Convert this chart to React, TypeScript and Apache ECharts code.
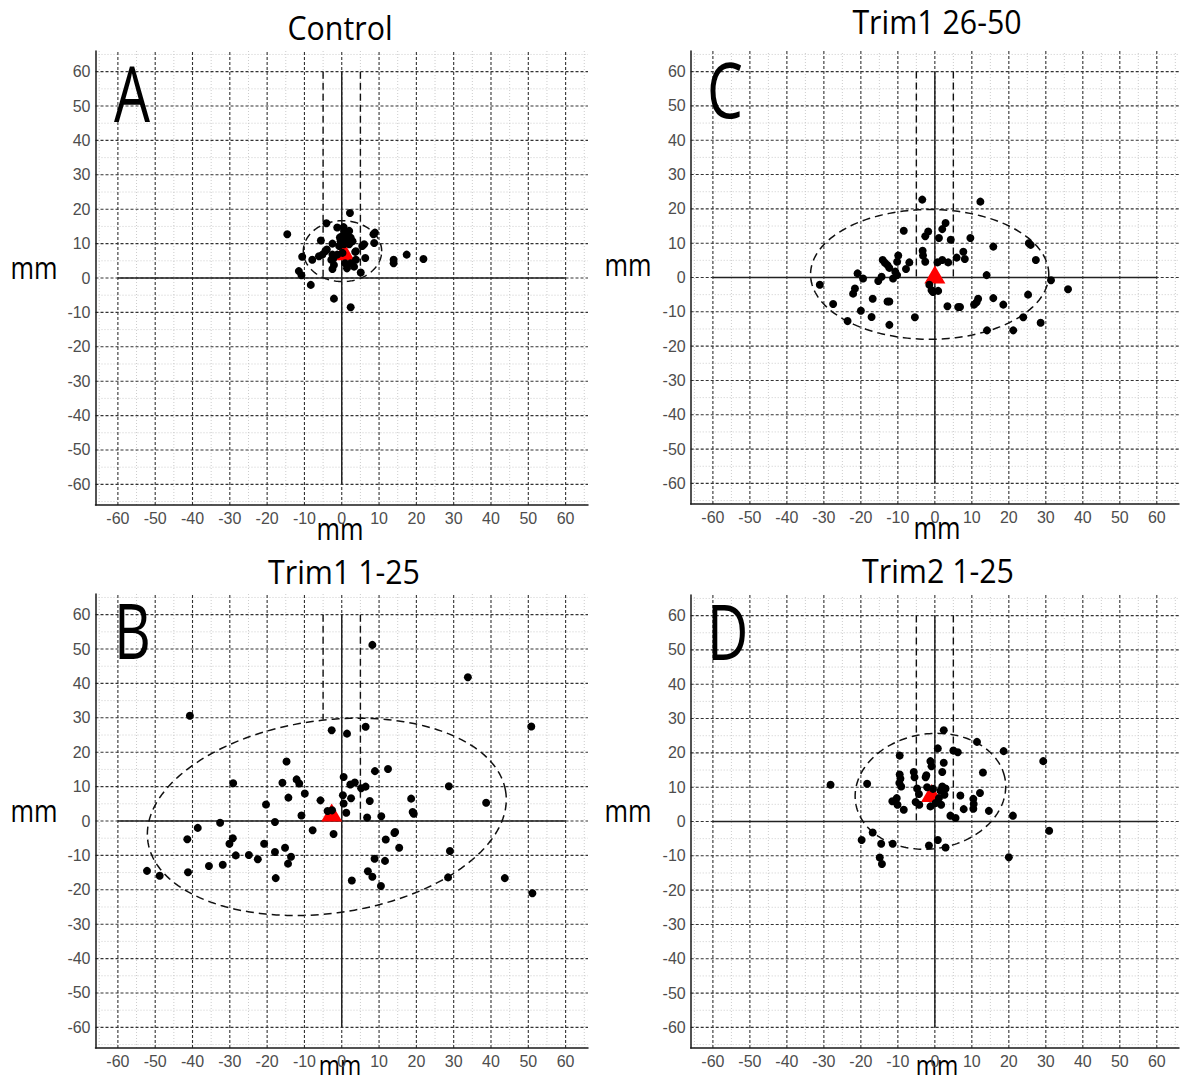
import React, { useEffect, useRef } from "react";
import * as echarts from "echarts";

// ---------- axis / reference values ----------
const AXIS_MIN = -66;
const AXIS_MAX = 66;
const MAJOR_TICKS = [-60, -50, -40, -30, -20, -10, 0, 10, 20, 30, 40, 50, 60];
const MINOR_TICKS = [-65, -55, -45, -35, -25, -15, -5, 5, 15, 25, 35, 45, 55, 65];
const CROSS_EXTENT = 60;
const GUIDE_X = [-5, 5];
const GUIDE_TOP = 60;

// ---------- panel titles / letters ----------
const PANEL_TITLES = ["Control", "Trim1 26-50", "Trim1 1-25", "Trim2 1-25"];
const PANEL_LETTERS = ["A", "C", "B", "D"];
const AXIS_NAME = "mm";

// ---------- data: A  Control ----------
const controlPoints: [number, number][] = [
  [-14.6, 12.7], [2.2, 18.9], [-4.1, 15.9], [-1.2, 14.7], [0.6, 13.7], [2.0, 13.7], [1.3, 12.7],
  [0.2, 12.2], [2.4, 11.7], [1.1, 11.2], [-0.3, 10.7], [0.6, 9.8], [2.0, 9.8], [-0.7, 9.3],
  [2.9, 10.7], [-5.6, 10.9], [-2.5, 10.0], [-4.0, 8.3], [-5.2, 6.8], [-6.1, 6.3], [-2.5, 6.8],
  [-2.8, 5.3], [-1.2, 6.8], [0.2, 7.3], [3.8, 7.8], [5.5, 9.3], [6.0, 9.8], [8.5, 12.7],
  [8.9, 13.2], [8.7, 10.2], [6.3, 5.8], [3.8, 5.3], [2.4, 4.3], [-2.1, 3.8], [-2.5, 2.6],
  [5.1, 1.6], [3.3, 3.3], [-10.6, 6.2], [-7.9, 5.3], [-11.5, 2.0], [-10.8, 0.8], [-8.3, -2.0],
  [-2.1, -6.0], [2.4, -8.5], [13.9, 5.3], [13.9, 4.3], [17.4, 6.8], [21.9, 5.5], [0.9, 4.3],
  [1.4, 2.8], [-4.4, 7.8], [-2.3, 5.6], [3.6, 7.6], [0.5, 14.8], [1.6, 12.2], [-0.5, 11.8],
];
const controlMean: [number, number] = [0.6, 7.8];
const controlEllipse = [0.2, 7.8, 10.5, 8.85, 0]; // cx, cy, semi-major, semi-minor, angle(deg)
const controlGuideBottom = [0, 0];

// ---------- data: C  Trim1 26-50 ----------
const trim1LatePoints: [number, number][] = [
  [-3.4, 22.7], [-8.4, 13.6], [-1.8, 13.4], [-2.6, 12.0], [-3.3, 7.8], [-3.2, 6.4], [-2.6, 4.6],
  [-9.9, 6.4], [-10.2, 4.6], [-6.9, 4.4], [-7.8, 2.5], [-14.1, 5.1], [-13.5, 4.3], [-12.8, 3.6],
  [-12.3, 2.8], [-10.7, 1.7], [-10.2, 0.7], [-11.3, -0.3], [-14.4, 0.2], [-15.3, -1.0],
  [-20.9, 1.2], [-19.4, -0.3], [-31.1, -2.1], [-21.6, -3.2], [-22.1, -4.7], [-27.5, -7.7],
  [-16.8, -6.2], [-12.8, -7.0], [-12.3, -7.0], [-20.0, -9.7], [-17.1, -11.5], [-23.6, -12.7],
  [-12.3, -13.8], [-5.4, -11.6], [-1.5, -2.1], [-0.9, -3.7], [-0.5, -4.2],
  [12.3, 22.1], [2.9, 15.9], [2.0, 14.1], [1.1, 11.5], [4.3, 11.0], [9.6, 11.5], [15.8, 9.0],
  [25.4, 10.0], [25.9, 9.5], [27.3, 5.1], [7.7, 7.5], [8.1, 5.4], [5.9, 5.8], [3.6, 4.4],
  [2.0, 5.1], [0.7, 4.4], [14.0, 0.7], [31.4, -0.8], [36.0, -3.4], [0.9, -3.9], [11.7, -6.2],
  [11.3, -7.2], [10.6, -7.9], [15.8, -6.0], [18.5, -7.9], [3.4, -8.4], [6.3, -8.6], [6.8, -8.6],
  [25.2, -5.0], [23.9, -11.6], [28.6, -13.2], [14.1, -15.4], [21.2, -15.4],
];
const trim1LateMean: [number, number] = [0, 0.9];
const trim1LateEllipse = [-1.4, 0.9, 32.2, 18.9, 0];
const trim1LateGuideBottom = [0, 0];

// ---------- data: B  Trim1 1-25 ----------
const trim1EarlyPoints: [number, number][] = [
  [-40.7, 30.6], [-2.7, 26.4], [1.4, 25.4], [-14.8, 17.3], [-29.1, 11.0], [-15.9, 11.1],
  [-12.1, 12.1], [-11.4, 10.9], [-9.9, 8.0], [-14.3, 6.8], [-20.3, 4.8], [-5.7, 6.0],
  [0.5, 12.8], [2.3, 10.6], [0.3, 7.5], [0.5, 5.1], [1.2, 2.4], [2.5, 6.6], [-10.8, 1.6],
  [-3.8, 2.9], [-2.6, 3.1], [-17.9, -0.3], [-32.6, -0.5], [-7.8, -2.7], [-2.2, -3.8],
  [-38.6, -2.0], [-41.4, -5.3], [-29.2, -5.0], [-30.1, -6.6], [-28.4, -10.0], [-24.9, -9.9],
  [-22.5, -11.1], [-20.8, -6.6], [-17.9, -9.0], [-15.2, -7.8], [-13.6, -10.4], [-14.4, -12.4],
  [-35.6, -13.1], [-31.9, -12.7], [-41.2, -14.9], [-17.7, -16.6], [-52.2, -14.5], [-48.8, -15.9],
  [2.7, -17.3], [8.2, 51.2], [33.8, 41.8], [50.8, 27.5], [6.4, 27.4], [8.9, 14.5], [12.4, 15.1],
  [28.7, 10.1], [38.7, 5.3], [18.6, 6.5], [19.0, 2.6], [19.3, 2.1], [3.5, 11.2], [5.2, 9.5],
  [6.4, 10.0], [7.5, 5.8], [6.8, 1.0], [10.6, 1.4], [14.1, -3.5], [14.3, -3.2], [11.8, -5.4],
  [15.4, -7.8], [29.0, -8.7], [8.8, -11.0], [11.6, -11.6], [7.0, -14.6], [8.2, -16.2],
  [10.5, -18.9], [28.5, -16.4], [43.7, -16.6], [51.1, -21.0],
];
const trim1EarlyMean: [number, number] = [-2.7, 2.5];
const trim1EarlyEllipse = [-4.0, 1.2, 48.5, 28.0, 9];
const trim1EarlyGuideBottom = [29.5, 0];

// ---------- data: D  Trim2 1-25 ----------
const trim2EarlyPoints: [number, number][] = [
  [2.4, 26.6], [11.4, 23.2], [18.6, 20.5], [29.3, 17.6], [0.8, 21.3], [5.0, 20.7], [6.2, 20.2],
  [-9.5, 19.2], [-1.2, 17.6], [-0.9, 16.1], [2.4, 17.1], [2.0, 14.4], [13.0, 14.3], [-5.7, 14.4],
  [-5.5, 12.9], [-9.5, 13.7], [-9.3, 12.5], [-9.6, 11.2], [-9.1, 10.2], [-2.3, 13.5], [-2.5, 12.9],
  [-18.3, 11.0], [-28.2, 10.7], [-4.8, 9.6], [-4.3, 8.0], [-2.1, 10.0], [2.0, 10.2], [2.9, 9.6],
  [2.6, 7.8], [1.1, 6.8], [0.2, 5.4], [-1.2, 4.4], [1.7, 4.9], [6.9, 7.6], [12.2, 8.3],
  [10.4, 6.6], [10.5, 5.1], [10.4, 3.7], [7.8, 3.6], [14.6, 3.1], [-11.5, 5.9], [-10.3, 6.8],
  [-10.1, 4.9], [-8.4, 3.4], [-5.2, 5.7], [-4.2, 4.9], [4.2, 1.7], [5.6, 1.0], [21.1, 1.7],
  [30.9, -2.7], [-16.8, -3.2], [-19.8, -5.4], [-14.5, -6.5], [-11.4, -6.5], [-14.9, -10.5],
  [-14.3, -12.4], [-1.6, -7.0], [0.8, -5.4], [2.9, -7.6], [20.0, -10.4], [-0.5, 9.5], [1.5, 9.0],
];
const trim2EarlyMean: [number, number] = [-0.9, 8.3];
const trim2EarlyEllipse = [-1.2, 8.8, 20.5, 16.7, 12];
const trim2EarlyGuideBottom = [0, 0];

// order: A (top-left), C (top-right), B (bottom-left), D (bottom-right)
const PANEL_POINTS = [controlPoints, trim1LatePoints, trim1EarlyPoints, trim2EarlyPoints];
const PANEL_MEANS = [controlMean, trim1LateMean, trim1EarlyMean, trim2EarlyMean];
const PANEL_ELLIPSES = [controlEllipse, trim1LateEllipse, trim1EarlyEllipse, trim2EarlyEllipse];
const PANEL_GUIDE_BOTTOMS = [controlGuideBottom, trim1LateGuideBottom, trim1EarlyGuideBottom, trim2EarlyGuideBottom];

// ---------- layout (pixels) ----------
const LAYOUT = [
  { left: 95.5, top: 51, width: 492.5, height: 454, titleX: 340, titleY: 27, letterX: 114, letterY: 93, ymmX: 34, ymmY: 266.5, xmmX: 340, xmmY: 528, xmmSize: 31 },
  { left: 690.7, top: 51, width: 492.5, height: 453, titleX: 937, titleY: 21, letterX: 707, letterY: 89, ymmX: 628, ymmY: 264, xmmX: 937, xmmY: 527, xmmSize: 31 },
  { left: 95.5, top: 594, width: 492.5, height: 454, titleX: 344, titleY: 571, letterX: 114, letterY: 630, ymmX: 34, ymmY: 810, xmmX: 340, xmmY: 1065, xmmSize: 28 },
  { left: 690.7, top: 595, width: 492.5, height: 453, titleX: 938, titleY: 570, letterX: 707, letterY: 631, ymmX: 628, ymmY: 810, xmmX: 937, xmmY: 1065, xmmSize: 28 },
];

const BIG_FONT = "Open Sans";

function makeAxis(gridIndex: number) {
  return {
    type: "value",
    gridIndex,
    min: AXIS_MIN,
    max: AXIS_MAX,
    splitNumber: 12,
    minInterval: 10,
    maxInterval: 10,
    z: 10,
    axisLine: { show: true, onZero: false, lineStyle: { color: "#1a1a1a", width: 1.5 } },
    axisTick: { show: false },
    splitLine: { show: false },
    axisLabel: {
      color: "#4d4d4d",
      fontSize: 16,
      fontFamily: "Liberation Sans",
      margin: 5,
      formatter: (v: number) => (Math.round(v) % 10 === 0 && Math.abs(v) <= 60 ? String(Math.round(v)) : ""),
    },
  };
}

function gridLineSeries(idx: number, ticks: number[], style: any, z: number) {
  const data: number[][] = [];
  ticks.forEach((t) => {
    data.push([t, 0]);
    data.push([t, 1]);
  });
  return {
    type: "custom",
    coordinateSystem: "cartesian2d",
    xAxisIndex: idx,
    yAxisIndex: idx,
    silent: true,
    z,
    data,
    renderItem: (_p: any, api: any) => {
      const v = api.value(0);
      const o = api.value(1);
      const p1 = o === 0 ? api.coord([v, AXIS_MIN]) : api.coord([AXIS_MIN, v]);
      const p2 = o === 0 ? api.coord([v, AXIS_MAX]) : api.coord([AXIS_MAX, v]);
      return { type: "line", shape: { x1: p1[0], y1: p1[1], x2: p2[0], y2: p2[1] }, style };
    },
  };
}

function buildOption() {
  const grids: any[] = [];
  const xAxes: any[] = [];
  const yAxes: any[] = [];
  const series: any[] = [];
  const graphics: any[] = [];

  LAYOUT.forEach((L, i) => {
    grids.push({ left: L.left, top: L.top, width: L.width, height: L.height, containLabel: false });
    xAxes.push(makeAxis(i));
    yAxes.push(makeAxis(i));

    // minor grid (light dotted) and major grid (dark dashed)
    series.push(gridLineSeries(i, MINOR_TICKS, { stroke: "#cccccc", lineWidth: 1, lineDash: [1, 2] }, 1));
    series.push(gridLineSeries(i, MAJOR_TICKS, { stroke: "#333333", lineWidth: 1.1, lineDash: [3, 2] }, 2));

    // solid cross lines through the origin
    series.push({
      type: "custom",
      coordinateSystem: "cartesian2d",
      xAxisIndex: i,
      yAxisIndex: i,
      silent: true,
      z: 3,
      data: [[0, 0], [0, 1]],
      renderItem: (_p: any, api: any) => {
        const v = api.value(0);
        const o = api.value(1);
        const p1 = o === 0 ? api.coord([v, -CROSS_EXTENT]) : api.coord([-CROSS_EXTENT, v]);
        const p2 = o === 0 ? api.coord([v, CROSS_EXTENT]) : api.coord([CROSS_EXTENT, v]);
        return {
          type: "line",
          shape: { x1: p1[0], y1: p1[1], x2: p2[0], y2: p2[1] },
          style: { stroke: "#222222", lineWidth: 1.5 },
        };
      },
    });

    // dashed guide verticals at x = ±5
    series.push({
      type: "custom",
      coordinateSystem: "cartesian2d",
      xAxisIndex: i,
      yAxisIndex: i,
      silent: true,
      z: 3,
      data: GUIDE_X.map((gx, k) => [gx, GUIDE_TOP, PANEL_GUIDE_BOTTOMS[i][k]]),
      renderItem: (_p: any, api: any) => {
        const p1 = api.coord([api.value(0), api.value(1)]);
        const p2 = api.coord([api.value(0), api.value(2)]);
        return {
          type: "line",
          shape: { x1: p1[0], y1: p1[1], x2: p2[0], y2: p2[1] },
          style: { stroke: "#111111", lineWidth: 1.4, lineDash: [7, 4] },
        };
      },
    });

    // confidence ellipse
    series.push({
      type: "custom",
      coordinateSystem: "cartesian2d",
      xAxisIndex: i,
      yAxisIndex: i,
      silent: true,
      z: 4,
      dimensions: ["cx", "cy", "a", "b", "ang"],
      encode: { x: 0, y: 1 },
      data: [PANEL_ELLIPSES[i]],
      renderItem: (_p: any, api: any) => {
        const cx = api.value(0);
        const cy = api.value(1);
        const a = api.value(2);
        const b = api.value(3);
        const ang = (api.value(4) * Math.PI) / 180;
        const pts: number[][] = [];
        const n = 200;
        for (let k = 0; k <= n; k++) {
          const t = (k / n) * Math.PI * 2;
          const x = cx + a * Math.cos(t) * Math.cos(ang) - b * Math.sin(t) * Math.sin(ang);
          const y = cy + a * Math.cos(t) * Math.sin(ang) + b * Math.sin(t) * Math.cos(ang);
          pts.push(api.coord([x, y]));
        }
        return {
          type: "polyline",
          shape: { points: pts },
          style: { fill: "none", stroke: "#111111", lineWidth: 1.5, lineDash: [8, 5] },
        };
      },
    });

    // mean triangle
    series.push({
      type: "scatter",
      xAxisIndex: i,
      yAxisIndex: i,
      z: 5,
      silent: true,
      symbol: "triangle",
      symbolSize: [21, 18],
      itemStyle: { color: "#ff0000", opacity: 1 },
      data: [PANEL_MEANS[i]],
    });

    // points
    series.push({
      type: "scatter",
      xAxisIndex: i,
      yAxisIndex: i,
      z: 6,
      silent: true,
      symbol: "circle",
      symbolSize: 8,
      itemStyle: { color: "#000000", opacity: 1 },
      data: PANEL_POINTS[i],
    });

    const txt = (x: number, y: number, text: string, size: number, sx: number, align: string, z: number) => ({
      type: "text",
      x,
      y,
      scaleX: sx,
      z,
      silent: true,
      style: {
        text,
        fontSize: size,
        fontFamily: BIG_FONT,
        fill: "#000",
        align,
        verticalAlign: "middle",
        textAlign: align,
        textVerticalAlign: "middle",
      },
    });
    graphics.push(txt(L.titleX, L.titleY, PANEL_TITLES[i], 33, 0.92, "center", 100));
    graphics.push(txt(L.letterX, L.letterY, PANEL_LETTERS[i], 76, 0.75, "left", 100));
    graphics.push(txt(L.ymmX, L.ymmY, AXIS_NAME, 31, 0.82, "center", 100));
    graphics.push(txt(L.xmmX, L.xmmY, AXIS_NAME, L.xmmSize, 0.82, "center", 0));
  });

  return {
    animation: false,
    backgroundColor: "#ffffff",
    grid: grids,
    xAxis: xAxes,
    yAxis: yAxes,
    series,
    graphic: { elements: graphics },
  };
}

export default function App() {
  const ref = useRef<HTMLDivElement>(null);
  useEffect(() => {
    if (!ref.current) return;
    const chart = echarts.init(ref.current, undefined, { renderer: "svg" });
    chart.setOption(buildOption() as any);
    return () => chart.dispose();
  }, []);
  return (
    <div
      ref={ref}
      style={{ position: "absolute", left: 0, top: 0, width: 1182, height: 1086, background: "#fff" }}
    />
  );
}
